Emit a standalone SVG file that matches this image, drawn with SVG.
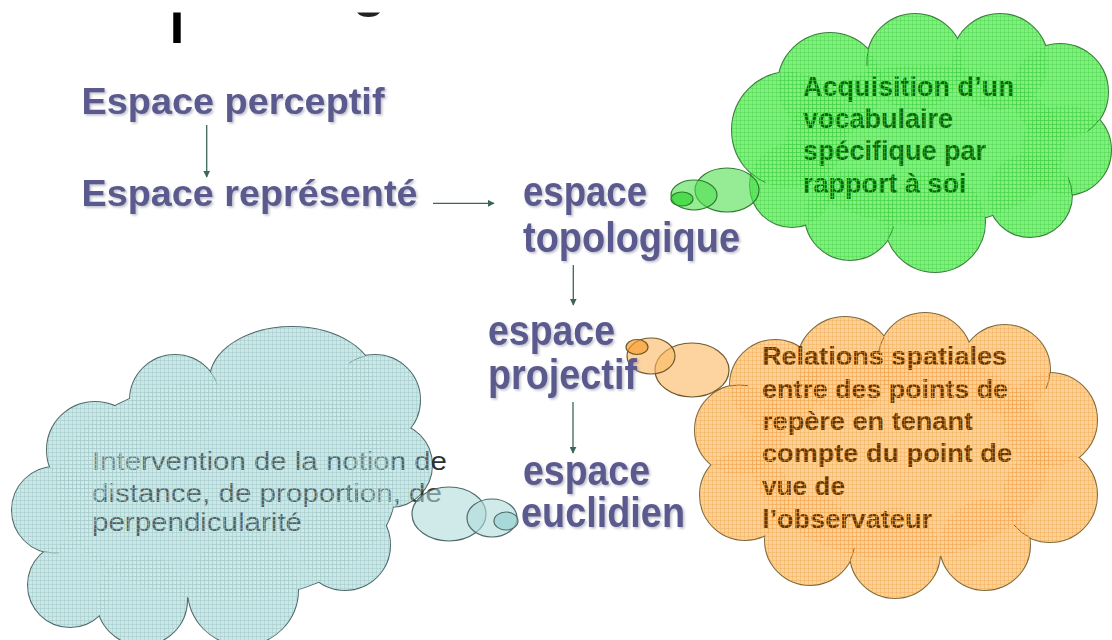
<svg xmlns="http://www.w3.org/2000/svg" xmlns:xlink="http://www.w3.org/1999/xlink" width="1112" height="640" viewBox="0 0 1112 640">
<style>
.lbl{font-family:"Liberation Sans",Arial,sans-serif;font-weight:bold;fill:#5a5a8e;filter:url(#sh)}
.txt{font-family:"Liberation Sans",Arial,sans-serif}
.conn{stroke:#3d6658;stroke-width:1.3;fill:none;marker-end:url(#ah)}
.outline{fill:none;stroke-width:2}
.nofill{stroke:none}
.bub{stroke-width:1.2}
.inner{fill:none;stroke-width:1}
</style>
<defs>
<filter id="sh" x="-10%" y="-20%" width="130%" height="150%">
<feDropShadow dx="1.6" dy="1.6" stdDeviation="0.9" flood-color="#8a8aa0" flood-opacity="0.55"/>
</filter>
<marker id="ah" viewBox="0 0 10 10" refX="9" refY="5" markerWidth="7" markerHeight="7" markerUnits="userSpaceOnUse" orient="auto">
<path d="M0 0L10 5L0 10z" fill="#3d6658"/>
</marker>
<pattern id="gridG" width="4" height="4" patternUnits="userSpaceOnUse">
<path d="M0 0.5H4M0.5 0V4" stroke="#3fcf3f" stroke-opacity="0.35" stroke-width="1"/>
</pattern>
<pattern id="gridO" width="4" height="4" patternUnits="userSpaceOnUse">
<path d="M0 0.5H4M0.5 0V4" stroke="#eea24a" stroke-opacity="0.35" stroke-width="1"/>
</pattern>
<pattern id="gridB" width="4" height="4" patternUnits="userSpaceOnUse">
<rect width="4" height="4" fill="#d6ecec" fill-opacity="0.25"/>
<path d="M0 0.5H4M0.5 0V4" stroke="#9cc6c6" stroke-opacity="0.45" stroke-width="1"/>
</pattern>
<clipPath id="topclip"><rect x="0" y="12.5" width="1112" height="60"/></clipPath>
<g id="gShape">
<circle cx="790" cy="130" r="58"/>
<circle cx="830" cy="85" r="52"/>
<circle cx="915" cy="62" r="48"/>
<circle cx="1000" cy="62" r="48"/>
<circle cx="1060" cy="92" r="48"/>
<circle cx="1066" cy="150" r="45"/>
<circle cx="1030" cy="195" r="42"/>
<circle cx="935" cy="222" r="50"/>
<circle cx="850" cy="215" r="45"/>
<circle cx="792" cy="185" r="42"/>
<ellipse cx="925" cy="145" rx="140" ry="80"/>
</g>
<g id="oShape">
<circle cx="775" cy="385" r="45"/>
<circle cx="845" cy="365" r="48"/>
<circle cx="925" cy="360" r="47"/>
<circle cx="1005" cy="370" r="45"/>
<circle cx="1050" cy="420" r="47"/>
<circle cx="1050" cy="495" r="47"/>
<circle cx="985" cy="545" r="45"/>
<circle cx="895" cy="553" r="45"/>
<circle cx="810" cy="540" r="45"/>
<circle cx="745" cy="495" r="45"/>
<circle cx="740" cy="430" r="45"/>
<ellipse cx="900" cy="455" rx="150" ry="105"/>
</g>
<g id="bShape">
<ellipse cx="292" cy="380" rx="82" ry="53"/>
<circle cx="175" cy="400" r="45"/>
<circle cx="95" cy="450" r="48"/>
<circle cx="55" cy="510" r="43"/>
<circle cx="70" cy="585" r="42"/>
<circle cx="142" cy="600" r="45"/>
<circle cx="243" cy="590" r="55"/>
<circle cx="345" cy="545" r="45"/>
<circle cx="390" cy="465" r="42"/>
<circle cx="375" cy="400" r="45"/>
<ellipse cx="225" cy="490" rx="170" ry="110"/>
</g>
</defs>
<rect width="1112" height="640" fill="#ffffff"/>

<g id="title-fragment" clip-path="url(#topclip)" font-family="Liberation Sans, Arial, sans-serif" font-weight="bold" fill="#000">
<text x="169.7" y="43" font-size="52">I</text>
<text x="352" y="5" font-size="56" fill="#222">g</text>
</g>

<g id="node-cloud-green">
<use xlink:href="#gShape" class="outline" stroke="#3a7f3a"/>
<use xlink:href="#gShape" class="nofill" fill="#80ef80"/>
<g class="inner" stroke="#3a7f3a">
<path d="M868.5 50A48 48 0 0 0 867 66"/>
<path d="M1099 120A48 48 0 0 1 1087.5 131.3"/>
<path d="M1072 195A42 42 0 0 0 1068 177"/>
<path d="M888 239A45 45 0 0 0 893.5 226.6"/>
<path d="M751.6 173.5A58 58 0 0 0 765.5 182.6"/>
</g>
<text class="txt" font-size="27" font-weight="bold" fill="#0c650c">
<tspan x="803" y="96">Acquisition d’un</tspan>
<tspan x="803" y="128">vocabulaire</tspan>
<tspan x="803" y="160">spécifique par</tspan>
<tspan x="803" y="193">rapport à soi</tspan>
</text>
<use xlink:href="#gShape" class="nofill" fill="url(#gridG)"/>
<ellipse class="bub" cx="727" cy="190" rx="32" ry="22" fill="#4fe04f" fill-opacity="0.6" stroke="#2f7a2f"/>
<ellipse class="bub" cx="694" cy="195" rx="23" ry="15" fill="#4fe04f" fill-opacity="0.6" stroke="#2f7a2f"/>
<ellipse class="bub" cx="682" cy="199" rx="11" ry="7" fill="#2fd62f" fill-opacity="0.7" stroke="#2f7a2f"/>
</g>

<g id="node-cloud-orange">
<use xlink:href="#oShape" class="outline" stroke="#7f6a3a"/>
<use xlink:href="#oShape" class="nofill" fill="#fdd195"/>
<g class="inner" stroke="#7f6a3a">
<path d="M884 337A47 47 0 0 0 878.7 351.8"/>
<path d="M1050 373A45 45 0 0 1 1045.8 389"/>
<path d="M1029.4 537.3A47 47 0 0 1 1014 525"/>
<path d="M850.5 559.6A45 45 0 0 0 854.3 547.8"/>
<path d="M730 386A45 45 0 0 1 747.8 385.7"/>
</g>
<g class="txt" font-size="25" font-weight="bold" fill="#653800">
<text x="762" y="365" textLength="245" lengthAdjust="spacingAndGlyphs">Relations spatiales</text>
<text x="762" y="398" textLength="246" lengthAdjust="spacingAndGlyphs">entre des points de</text>
<text x="762" y="430" textLength="211" lengthAdjust="spacingAndGlyphs">repère en tenant</text>
<text x="762" y="462" textLength="250" lengthAdjust="spacingAndGlyphs">compte du point de</text>
<text x="762" y="495" textLength="83" lengthAdjust="spacingAndGlyphs">vue de</text>
<text x="762" y="528" textLength="170" lengthAdjust="spacingAndGlyphs">l’observateur</text>
</g>
<use xlink:href="#oShape" class="nofill" fill="url(#gridO)"/>
<ellipse class="bub" cx="692" cy="370" rx="37" ry="27" fill="#fbb860" fill-opacity="0.6" stroke="#6f5a2a"/>
<ellipse class="bub" cx="651" cy="356" rx="24" ry="18" fill="#fbb860" fill-opacity="0.6" stroke="#6f5a2a"/>
<ellipse class="bub" cx="637" cy="347" rx="11" ry="7.5" fill="#f7a030" fill-opacity="0.7" stroke="#6f5a2a"/>
</g>

<g id="node-cloud-blue">
<use xlink:href="#bShape" class="outline" stroke="#4f6a6a"/>
<use xlink:href="#bShape" class="nofill" fill="#c8e6e6"/>
<g class="inner" stroke="#4f6a6a">
<path d="M210.5 372A45 45 0 0 1 217.3 384.6"/>
<path d="M365.5 356A45 45 0 0 0 349.2 363.1"/>
<path d="M44.5 551.6A43 43 0 0 0 58.7 552.8"/>
</g>
<g class="txt" font-size="26" fill="#2a3232">
<text x="92" y="470" textLength="355" lengthAdjust="spacingAndGlyphs">Intervention de la notion de</text>
<text x="92" y="502" textLength="350" lengthAdjust="spacingAndGlyphs">distance, de proportion, de</text>
<text x="92" y="531" textLength="210" lengthAdjust="spacingAndGlyphs">perpendicularité</text>
</g>
<use xlink:href="#bShape" class="nofill" fill="url(#gridB)"/>
<ellipse class="bub" cx="449" cy="514" rx="37" ry="27" fill="#b0dada" fill-opacity="0.6" stroke="#4f6a6a"/>
<ellipse class="bub" cx="492" cy="518" rx="25" ry="19" fill="#b0dada" fill-opacity="0.6" stroke="#4f6a6a"/>
<ellipse class="bub" cx="506" cy="521" rx="12" ry="9" fill="#98d0d0" fill-opacity="0.7" stroke="#4f6a6a"/>
</g>

<g id="node-espace-perceptif">
<text class="lbl" x="81.5" y="114" font-size="37" textLength="303" lengthAdjust="spacingAndGlyphs">Espace perceptif</text>
</g>
<g id="node-espace-represente">
<text class="lbl" x="81.5" y="206" font-size="37" textLength="336" lengthAdjust="spacingAndGlyphs">Espace représenté</text>
</g>
<g id="node-espace-topologique">
<text class="lbl" x="523" y="206" font-size="43" textLength="124" lengthAdjust="spacingAndGlyphs">espace</text>
<text class="lbl" x="523" y="252" font-size="43" textLength="217" lengthAdjust="spacingAndGlyphs">topologique</text>
</g>
<g id="node-espace-projectif">
<text class="lbl" x="488" y="345" font-size="43" textLength="127" lengthAdjust="spacingAndGlyphs">espace</text>
<text class="lbl" x="488" y="389" font-size="43" textLength="149" lengthAdjust="spacingAndGlyphs">projectif</text>
</g>
<g id="node-espace-euclidien">
<text class="lbl" x="523" y="485" font-size="43" textLength="127" lengthAdjust="spacingAndGlyphs">espace</text>
<text class="lbl" x="521" y="527" font-size="43" textLength="164" lengthAdjust="spacingAndGlyphs">euclidien</text>
</g>

<g id="connectors">
<path class="conn" d="M206.7 125V177"/>
<path class="conn" d="M433 203.3H494"/>
<path class="conn" d="M573.3 265V305"/>
<path class="conn" d="M573 402V453"/>
</g>
</svg>
